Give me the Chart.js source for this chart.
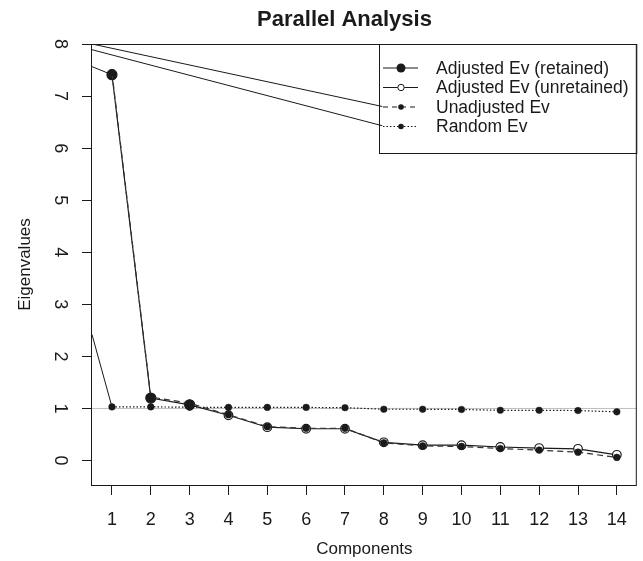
<!DOCTYPE html>
<html lang="en">
<head>
<meta charset="UTF-8" />
<title>Parallel Analysis</title>
<script src="https://cdn.jsdelivr.net/npm/chart.js"></script>
<style>
  body { margin: 0; background: #fff; }
  #wrap { width: 643px; height: 561px; }
</style>
</head>
<body>
<div id="wrap"><canvas id="pa" width="643" height="561"></canvas></div>
<script>
// values
const components   = [1, 2, 3, 4, 5, 6, 7, 8, 9, 10, 11, 12, 13, 14];
const adjustedEv   = [7.41, 1.20, 1.07, 0.87, 0.64, 0.61, 0.61, 0.35, 0.295, 0.295, 0.26, 0.24, 0.225, 0.11];
const retainedN    = 3;
const unadjustedEv = [7.45, 1.22, 1.10, 0.88, 0.65, 0.62, 0.62, 0.34, 0.28, 0.27, 0.23, 0.20, 0.16, 0.06];
const randomEv     = [1.03, 1.03, 1.025, 1.02, 1.02, 1.02, 1.015, 0.985, 0.985, 0.98, 0.965, 0.965, 0.96, 0.935];
const refLevel     = 1;
const xRange       = [0.486, 14.514];
const yRange       = [-0.47, 8];

// the stray segments that run in from the left edge of the plot
const strayFrom = [[0.486, 8.00], [0.486, 7.89], [0.486, 7.565], [0.486, 2.42]];
const strayTo   = [[7.96, 6.80], [7.96, 6.43], [1, 7.41], [1, 1.03]];

const plotTitle  = 'Parallel Analysis';
const xTitle     = 'Components';
const yTitle     = 'Eigenvalues';
const legendText = ['Adjusted Ev (retained)', 'Adjusted Ev (unretained)', 'Unadjusted Ev', 'Random Ev'];

const FONT = '"Liberation Sans", Arial, Helvetica, sans-serif';
const INK = '#1a1a1a';

const pts = vals => components.map((c, i) => ({ x: c, y: vals[i] }));

const datasets = [
  {
    label: 'ref',
    data: [{ x: xRange[0], y: refLevel }, { x: xRange[1], y: refLevel }],
    borderColor: '#bdbdbd', borderWidth: 1, pointRadius: 0, order: 10
  },
  ...strayFrom.map((s, i) => ({
    label: 'stray' + i,
    data: [{ x: s[0], y: s[1] }, { x: strayTo[i][0], y: strayTo[i][1] }],
    borderColor: INK, borderWidth: 1, pointRadius: 0, order: 9
  })),
  {
    label: 'random',
    data: pts(randomEv),
    borderColor: INK, borderWidth: 1.2, borderDash: [1.5, 2],
    pointRadius: 3.3, pointBackgroundColor: INK, pointBorderColor: INK, pointBorderWidth: 0.5,
    order: 3
  },
  {
    label: 'adjusted',
    data: pts(adjustedEv),
    borderColor: INK, borderWidth: 1.2,
    pointRadius: components.map((c, i) => i < retainedN ? 5 : 4.3),
    pointBackgroundColor: components.map((c, i) => i < retainedN ? INK : '#fff'),
    pointBorderColor: INK, pointBorderWidth: 1.2,
    order: 2
  },
  {
    label: 'unadjusted',
    data: pts(unadjustedEv),
    borderColor: '#333', borderWidth: 1.2, borderDash: [6, 4],
    pointRadius: 3.4, pointBackgroundColor: INK, pointBorderColor: INK, pointBorderWidth: 0.5,
    order: 1
  }
];

const rFrame = {
  id: 'rFrame',
  beforeDraw(chart) {
    const ctx = chart.ctx;
    ctx.save();
    ctx.fillStyle = '#fff';
    ctx.fillRect(0, 0, chart.width, chart.height);
    ctx.restore();
  },
  afterDraw(chart) {
    const { ctx, chartArea: a } = chart;
    ctx.save();
    ctx.strokeStyle = INK;
    ctx.lineWidth = 1;
    ctx.strokeRect(a.left - 0.5, a.top + 0.5, a.right - a.left, a.bottom - a.top);

    ctx.fillStyle = INK;
    ctx.font = 'bold 22px ' + FONT;
    ctx.textAlign = 'center';
    ctx.textBaseline = 'middle';
    ctx.fillText(plotTitle, 344.5, 20);

    // legend, top right inside the plot
    const bx = 379.5, by = a.top + 0.5, bw = a.right - 379.5, bh = 109;
    ctx.strokeRect(bx, by, bw, bh);
    ctx.font = '17.5px ' + FONT;
    ctx.textAlign = 'left';
    const dashes = [[], [], [5, 4], [1.5, 2]];
    legendText.forEach((t, i) => {
      const y = 68 + i * 19.5;
      ctx.setLineDash(dashes[i]);
      ctx.lineWidth = 1.2;
      ctx.beginPath();
      ctx.moveTo(383, y);
      ctx.lineTo(418, y);
      ctx.stroke();
      ctx.setLineDash([]);
      ctx.beginPath();
      const r = i === 0 ? 4.5 : (i === 1 ? 3.2 : 2.8);
      ctx.arc(401, y, r, 0, Math.PI * 2);
      if (i === 1) {
        ctx.fillStyle = '#fff';
        ctx.fill();
        ctx.lineWidth = 1;
        ctx.stroke();
      } else {
        ctx.fillStyle = INK;
        ctx.fill();
      }
      ctx.fillStyle = INK;
      ctx.fillText(t, 436, y + 1);
    });
    ctx.restore();
  }
};

new Chart(document.getElementById('pa'), {
  type: 'line',
  data: { datasets },
  options: {
    responsive: false,
    animation: false,
    devicePixelRatio: 1,
    layout: { padding: { top: 44, right: 5, left: 0, bottom: 0 } },
    plugins: { legend: { display: false }, tooltip: { enabled: false }, title: { display: false } },
    scales: {
      x: {
        type: 'linear',
        min: xRange[0], max: xRange[1],
        afterFit: s => { s.height = 76; },
        border: { display: false },
        grid: { drawOnChartArea: false, tickLength: 10, color: INK, tickColor: INK, lineWidth: 1 },
        ticks: {
          stepSize: 1, includeBounds: false, autoSkip: false, maxRotation: 0,
          padding: 14, color: INK, font: { family: FONT, size: 18 }
        },
        title: { display: true, text: xTitle, color: INK, font: { family: FONT, size: 17 }, padding: { top: 0, bottom: 1 } }
      },
      y: {
        type: 'linear',
        min: yRange[0], max: yRange[1],
        afterFit: s => { s.width = 92; },
        border: { display: false },
        grid: { drawOnChartArea: false, tickLength: 10, color: INK, tickColor: INK, lineWidth: 1 },
        ticks: {
          stepSize: 1, includeBounds: false, minRotation: -90, maxRotation: -90, crossAlign: 'center',
          padding: 17, color: INK, font: { family: FONT, size: 18 }
        },
        title: { display: true, text: yTitle, color: INK, font: { family: FONT, size: 17 }, padding: { top: 15, bottom: 0 } }
      }
    }
  },
  plugins: [rFrame]
});
</script>
</body>
</html>
